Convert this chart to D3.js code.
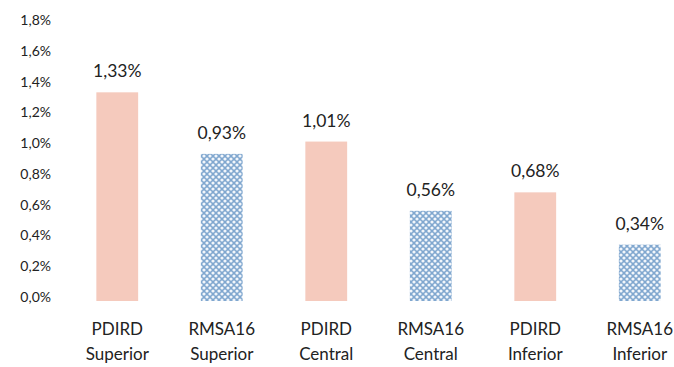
<!DOCTYPE html>
<html>
<head>
<meta charset="utf-8">
<script src="https://cdn.jsdelivr.net/npm/d3@7"></script>
<style>
  html, body { margin: 0; padding: 0; background: #fff; }
  svg { display: block; }
  text { font-family: Lato, "Open Sans", sans-serif; fill: #222; }
</style>
</head>
<body>
<svg id="chart" width="674" height="367"></svg>
<script>
// Categories (two-line labels), program of each bar, and values in %
const categories = [
  ["PDIRD", "Superior"],
  ["RMSA16", "Superior"],
  ["PDIRD", "Central"],
  ["RMSA16", "Central"],
  ["PDIRD", "Inferior"],
  ["RMSA16", "Inferior"]
];
const programs = ["PDIRD", "RMSA16", "PDIRD", "RMSA16", "PDIRD", "RMSA16"];
const values = [1.33, 0.93, 1.01, 0.56, 0.68, 0.34];
const yTicks = [0, 0.2, 0.4, 0.6, 0.8, 1.0, 1.2, 1.4, 1.6, 1.8];

const svg = d3.select("#chart");
const fmt = v => d3.format(".1f")(v).replace(".", ",") + "%";
const fmtVal = v => d3.format(".2f")(v).replace(".", ",") + "%";

// Dotted lattice fill for RMSA16 bars
const defs = svg.append("defs");
const pat = defs.append("pattern")
  .attr("id", "lattice")
  .attr("patternUnits", "userSpaceOnUse")
  .attr("width", 6).attr("height", 6);
pat.append("rect").attr("width", 6).attr("height", 6).attr("fill", "#80a7cf");
[[0, 0], [6, 0], [0, 6], [6, 6], [3, 3]].forEach(([cx, cy]) =>
  pat.append("circle").attr("cx", cx).attr("cy", cy).attr("r", 1.6).attr("fill", "#f2f6fb"));

const x = d3.scaleBand()
  .domain(d3.range(categories.length))
  .range([65, 692])
  .paddingInner(0.6)
  .paddingOuter(0.3);

const y = d3.scaleLinear().domain([0, 1.8]).range([297, 20]);

// Y axis labels (no axis line, no gridlines)
const yAxis = d3.axisLeft(y).tickValues(yTicks).tickFormat(fmt).tickSize(0).tickPadding(0);
const gy = svg.append("g").attr("transform", "translate(51,0)").call(yAxis);
gy.select(".domain").remove();
gy.selectAll("text")
  .attr("font-size", 14)
  .attr("font-family", "Lato, sans-serif")
  .attr("fill", "#2a2a2a");

const fillFor = p => p === "PDIRD" ? "#f5cabd" : "url(#lattice)";

// Bars
svg.append("g").selectAll("rect")
  .data(values)
  .join("rect")
  .attr("x", (d, i) => x(i))
  .attr("width", x.bandwidth())
  .attr("y", d => y(d))
  .attr("height", d => y(0) - y(d) + 4)
  .attr("fill", (d, i) => fillFor(programs[i]));

// Value labels above bars
svg.append("g").selectAll("text")
  .data(values)
  .join("text")
  .attr("x", (d, i) => x(i) + x.bandwidth() / 2)
  .attr("y", d => y(d) - 15)
  .attr("text-anchor", "middle")
  .attr("font-size", 17.5)
  .text(d => fmtVal(d));

// Category labels below
const xAxis = d3.axisBottom(x).tickSize(0).tickFormat("");
const gx = svg.append("g").attr("transform", `translate(0,${y(0)})`).call(xAxis);
gx.select(".domain").remove();
gx.selectAll(".tick").each(function (i) {
  const t = d3.select(this).append("text")
    .attr("text-anchor", "middle")
    .attr("font-size", 17)
    .attr("fill", "#222");
  categories[i].forEach((line, k) =>
    t.append("tspan").attr("x", 0).attr("y", 38 + k * 25).text(line));
});
</script>
</body>
</html>
